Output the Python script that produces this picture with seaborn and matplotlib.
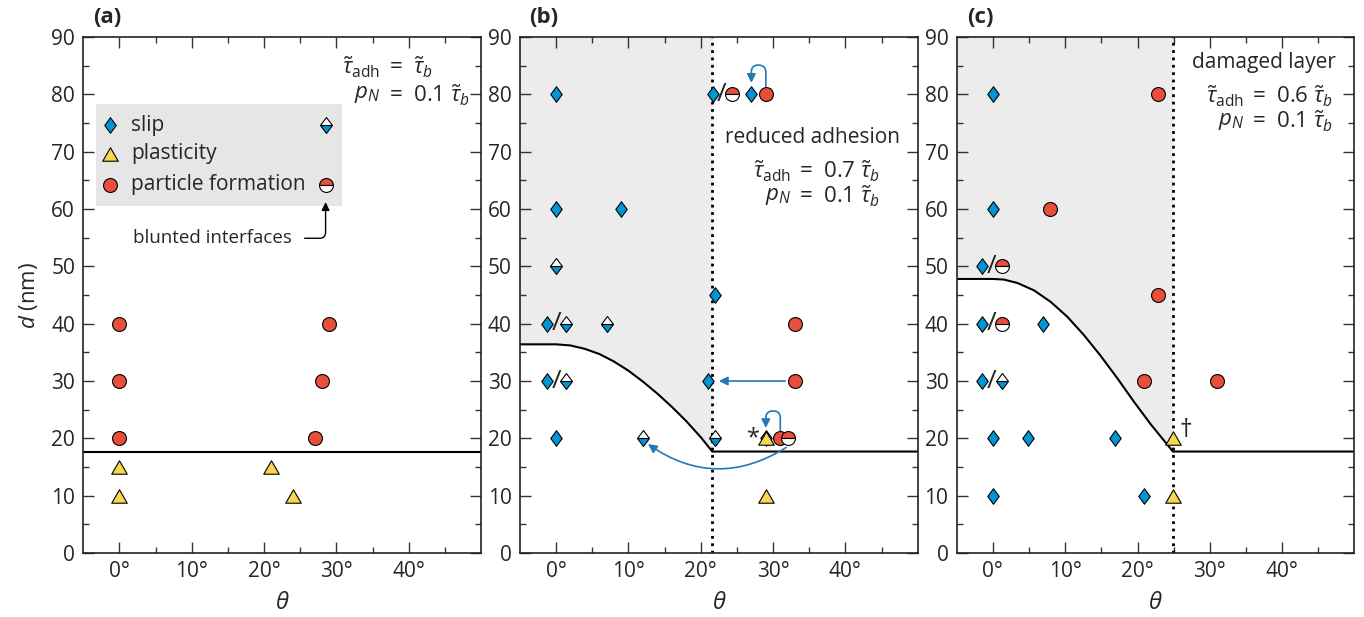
import matplotlib
matplotlib.use("Agg")
import matplotlib.pyplot as plt
from matplotlib.ticker import FixedLocator, MultipleLocator, FuncFormatter
from matplotlib.patches import Rectangle
from matplotlib.path import Path
from matplotlib.markers import MarkerStyle
from matplotlib.transforms import Affine2D
import seaborn as sns

BLUE = "#0096d6"
YELLOW = "#f7d650"
RED = "#e84e3c"
ARROW = "#2279b5"
SHADE = "#ececec"

# panel (a)
a_part_x = [0, 0, 0, 29.0, 28.0, 27.0]
a_part_y = [40, 30, 20, 40, 30, 20]
a_plast_x = [0, 0, 21.0, 24.0]
a_plast_y = [15, 10, 15, 10]
d_flat = 17.7

# panel (b)
b_slip_x = [0, 0, 9.0, -1.3, -1.3, 0, 21.7, 27.0, 22.0, 21.0, 29.0]
b_slip_y = [80, 60, 60, 40, 30, 20, 80, 80, 45, 30, 20]
b_hslip_x = [0, 1.3, 1.3, 7.0, 12.0, 22.0]
b_hslip_y = [50, 40, 30, 40, 20, 20]
b_plast_x = [29.0, 29.0]
b_plast_y = [20, 10]
b_part_x = [29.0, 33.0, 33.0, 30.9]
b_part_y = [80, 40, 30, 20]
b_hpart_x = [24.3, 32.1]
b_hpart_y = [80, 20]
b_theta = [-5, 0, 2, 4, 6, 8, 10, 12, 14, 16, 18, 20, 21.6, 50]
b_curve = [36.4, 36.4, 36.2, 35.6, 34.7, 33.4, 31.8, 29.9, 27.8, 25.5, 23.0, 20.2, 17.7, 17.7]
b_theta_max = 21.6

# panel (c)
c_slip_x = [0, 0, -1.45, -1.45, -1.45, 0, 4.9, 16.9, 6.9, 0, 20.9]
c_slip_y = [80, 60, 50, 40, 30, 20, 20, 20, 40, 10, 10]
c_hslip_x = [1.3]
c_hslip_y = [30]
c_plast_x = [24.9, 24.9]
c_plast_y = [20, 10]
c_part_x = [22.9, 7.9, 22.9, 20.9, 31.0]
c_part_y = [80, 60, 45, 30, 30]
c_hpart_x = [1.2, 1.2]
c_hpart_y = [50, 40]
c_theta = [-5, 0, 1.5, 3.4, 5.7, 8.0, 10.3, 12.6, 14.9, 17.2, 19.5, 21.8, 24.9, 50]
c_curve = [47.8, 47.8, 47.7, 47.1, 45.8, 43.8, 41.2, 38.0, 34.4, 30.5, 26.4, 22.5, 17.7, 17.7]
c_theta_max = 24.9

sns.set_style("ticks")
plt.rcParams["font.family"] = ["Open Sans", "DejaVu Sans"]
plt.rcParams["mathtext.fontset"] = "custom"
plt.rcParams["mathtext.rm"] = "Open Sans"
plt.rcParams["mathtext.it"] = "Open Sans:italic"
plt.rcParams["mathtext.bf"] = "Open Sans:bold"

TRI = Path([(0, 0.433), (-0.5, -0.433), (0.5, -0.433), (0, 0.433)], closed=True)
DIA_T = Affine2D().scale(0.52, 0.707)
DIA = MarkerStyle("D", transform=DIA_T)
DIA_HALF = MarkerStyle("D", fillstyle="bottom", transform=DIA_T)
S_DIA, S_TRI, S_CIR = 125, 125, 100
MS_DIA = S_DIA ** 0.5


def full_pts(ax, xs, ys, marker, color, size):
    sns.scatterplot(x=xs, y=ys, marker=marker, color=color, s=size, edgecolor="black",
                    linewidth=0.8, ax=ax, zorder=4, legend=False)


def half_pts(ax, xs, ys, marker, color, ms):
    ax.plot(xs, ys, ls="none", marker=marker, markersize=ms,
            markerfacecolor=color, markerfacecoloralt="white", markeredgecolor="black",
            markeredgewidth=0.8, zorder=5)


def style_axis(ax, label):
    ax.set_xlim(-5, 50)
    ax.set_ylim(0, 90)
    ax.xaxis.set_major_locator(FixedLocator([0, 10, 20, 30, 40]))
    ax.xaxis.set_minor_locator(FixedLocator([5, 15, 25, 35, 45]))
    ax.yaxis.set_major_locator(MultipleLocator(10))
    ax.yaxis.set_minor_locator(MultipleLocator(5))
    ax.xaxis.set_major_formatter(FuncFormatter(lambda v, p: f"{v:.0f}°"))
    ax.tick_params(which="both", direction="in", top=True, right=True, labelsize=15,
                   width=1.0, color="#333333", pad=6)
    ax.tick_params(which="major", length=8)
    ax.tick_params(which="minor", length=4)
    ax.set_xlabel(r"$\theta$", fontsize=17, labelpad=6)
    for s in ax.spines.values():
        s.set_linewidth(1.2)
        s.set_color("#222222")
    ax.text(0.06, 1.037, label, transform=ax.transAxes, fontweight="bold",
            ha="center", va="center", fontsize=16)


def eq_text(ax, x_eq, y1, y2, rhs1):
    # x_eq is the centre of the "=" sign
    ax.text(x_eq - 1.9, y1, r"$\tilde{\tau}_{\mathrm{adh}}$", ha="right", va="center", fontsize=16)
    ax.text(x_eq - 0.8, y1, "=  " + rhs1, ha="left", va="center", fontsize=16)
    ax.text(x_eq - 1.9, y2, r"$p_N$", ha="right", va="center", fontsize=16)
    ax.text(x_eq - 0.8, y2, r"=  0.1 $\tilde{\tau}_b$", ha="left", va="center", fontsize=16)


fig = plt.figure(figsize=(13.64, 6.17), dpi=100)
w, h, bot = 0.2916, 0.8363, 0.1037
ax_a = fig.add_axes([0.0611, bot, w, h])
ax_b = fig.add_axes([0.3812, bot, w, h])
ax_c = fig.add_axes([0.7014, bot, w, h])

# ---- (a)
ax = ax_a
ax.axhline(d_flat, color="black", lw=1.5, zorder=2)
full_pts(ax, a_part_x, a_part_y, "o", RED, S_CIR)
full_pts(ax, a_plast_x, a_plast_y, TRI, YELLOW, S_TRI)
ax.add_patch(Rectangle((-3.3, 60.5), 34.0, 17.9, facecolor="#e6e6e6", edgecolor="none", zorder=1))
full_pts(ax, [-1.25], [74.6], DIA, BLUE, S_DIA)
full_pts(ax, [-1.25], [69.6], TRI, YELLOW, S_TRI)
full_pts(ax, [-1.25], [64.2], "o", RED, S_CIR)
half_pts(ax, [28.5], [74.6], DIA_HALF, BLUE, MS_DIA)
half_pts(ax, [28.5], [64.2], MarkerStyle("o", fillstyle="top"), RED, 10)
for yy, txt in zip([74.6, 69.6, 64.2], ["slip", "plasticity", "particle formation"]):
    ax.text(1.6, yy, txt, va="center", ha="left", fontsize=15)
ax.text(1.8, 54.9, "blunted interfaces", va="center", ha="left", fontsize=13.5)
ax.annotate("", xy=(28.5, 61.2), xytext=(25.6, 54.9),
            arrowprops=dict(arrowstyle="-|>", color="black", lw=1.0, mutation_scale=12,
                            shrinkA=0, shrinkB=0,
                            connectionstyle="angle,angleA=0,angleB=90,rad=6"))
eq_text(ax, 38.0, 84.8, 79.9, r"$\tilde{\tau}_b$")
ax.set_ylabel(r"$d$ (nm)", fontsize=16, labelpad=8)
style_axis(ax, "(a)")

# ---- (b)
ax = ax_b
n = b_theta.index(b_theta_max) + 1
ax.fill_between(b_theta[:n], b_curve[:n], 90, color=SHADE, lw=0, zorder=0)
sns.lineplot(x=b_theta, y=b_curve, color="black", lw=1.5, ax=ax, estimator=None, sort=False, zorder=2)
ax.axvline(b_theta_max, color="black", ls=":", lw=2, zorder=2)
full_pts(ax, b_slip_x, b_slip_y, DIA, BLUE, S_DIA)
full_pts(ax, b_plast_x, b_plast_y, TRI, YELLOW, S_TRI)
full_pts(ax, b_part_x, b_part_y, "o", RED, S_CIR)
half_pts(ax, b_hslip_x, b_hslip_y, DIA_HALF, BLUE, MS_DIA)
half_pts(ax, b_hpart_x, b_hpart_y, MarkerStyle("o", fillstyle="top"), RED, 10)
for xx, yy in [(0, 40), (0, 30), (22.9, 80)]:
    ax.text(xx, yy, "/", ha="center", va="center", fontsize=19)
ax.text(27.3, 20.0, "*", ha="center", va="center", fontsize=17)
arr = dict(arrowstyle="-|>", color=ARROW, lw=1.2, mutation_scale=13, shrinkA=0, shrinkB=0)
ax.annotate("", xy=(22.5, 30), xytext=(31.7, 30), arrowprops=arr)
ax.annotate("", xy=(12.7, 19.0), xytext=(31.8, 18.4),
            arrowprops=dict(arr, connectionstyle="arc3,rad=-0.33"))
ax.annotate("", xy=(27.0, 82.0), xytext=(29.0, 81.4),
            arrowprops=dict(arr, connectionstyle="arc,angleA=90,armA=21,angleB=90,armB=18,rad=7"))
ax.annotate("", xy=(29.0, 21.8), xytext=(31.0, 21.3),
            arrowprops=dict(arr, connectionstyle="arc,angleA=90,armA=20,angleB=90,armB=17,rad=7"))
ax.text(47.6, 72.4, "reduced adhesion", ha="right", va="center", fontsize=15)
eq_text(ax, 34.4, 66.5, 62.2, r"0.7 $\tilde{\tau}_b$")
style_axis(ax, "(b)")

# ---- (c)
ax = ax_c
n = c_theta.index(c_theta_max) + 1
ax.fill_between(c_theta[:n], c_curve[:n], 90, color=SHADE, lw=0, zorder=0)
sns.lineplot(x=c_theta, y=c_curve, color="black", lw=1.5, ax=ax, estimator=None, sort=False, zorder=2)
ax.axvline(c_theta_max, color="black", ls=":", lw=2, zorder=2)
full_pts(ax, c_slip_x, c_slip_y, DIA, BLUE, S_DIA)
full_pts(ax, c_plast_x, c_plast_y, TRI, YELLOW, S_TRI)
full_pts(ax, c_part_x, c_part_y, "o", RED, S_CIR)
half_pts(ax, c_hslip_x, c_hslip_y, DIA_HALF, BLUE, MS_DIA)
half_pts(ax, c_hpart_x, c_hpart_y, MarkerStyle("o", fillstyle="top"), RED, 10)
for yy in [50, 40, 30]:
    ax.text(-0.2, yy, "/", ha="center", va="center", fontsize=19)
ax.text(26.7, 21.3, "†", ha="center", va="center", fontsize=18)
ax.text(47.5, 85.6, "damaged layer", ha="right", va="center", fontsize=15)
eq_text(ax, 36.7, 79.6, 75.3, r"0.6 $\tilde{\tau}_b$")
style_axis(ax, "(c)")

fig.savefig("out.png", dpi=100)
